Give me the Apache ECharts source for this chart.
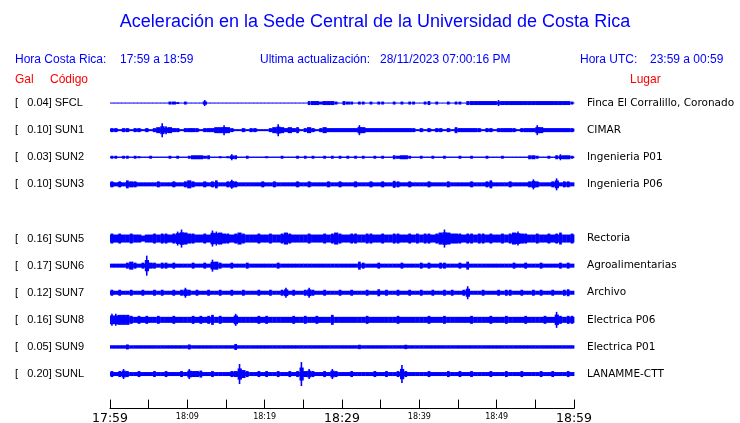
<!DOCTYPE html>
<html><head><meta charset="utf-8">
<script src="https://cdn.jsdelivr.net/npm/echarts@6/dist/echarts.min.js"></script>
<style>html,body{margin:0;padding:0;background:#fff}#c{width:740px;height:423px}</style>
</head><body><div id="c"></div>
<script>
// Row slots (SUN4 slot is empty in the reference)
const codes  = ['SFCL','SUN1','SUN2','SUN3','','SUN5','SUN6','SUN7','SUN8','SUN9','SUNL'];
const gals   = [0.04, 0.10, 0.03, 0.10, null, 0.16, 0.17, 0.12, 0.16, 0.05, 0.20];
const places = ['Finca El Corralillo, Coronado','CIMAR','Ingenieria P01','Ingenieria P06','','Rectoria','Agroalimentarias','Archivo','Electrica P06','Electrica P01','LANAMME-CTT'];
// time axis: minutes after 17:59, ticks every 5 min, labels every 10 min
const tickLabels = ['17:59','18:04','18:09','18:14','18:19','18:24','18:29','18:34','18:39','18:44','18:49','18:54','18:59'];
const bigLabels = ['17:59','18:29','18:59'];
// typical background band half-thickness per row (px at reference scale)
const bandHalf = [0.5, 1.5, 0.7, 2.2, null, 4, 2, 2, 3, 1.7, 2];
// envelope half-amplitudes (px at reference scale) per 0.5-minute bin, 120 bins each
const SFCL = [0.5,0.5,0.5,0.5,0.5,0.5,0.5,0.5,0.5,0.5,0.5,0.5,0.5,0.5,0.5,
 1.5,1.5,1,0.5,1.5,0.5, 0.5,0.5,0.5, 3,
 0.5,0.5,0.5,0.5,0.5,0.5,0.5,0.5,0.5,0.5,0.5,0.5,0.5,0.5,0.5,0.5,0.5,0.5,0.5,0.5,0.5,0.5,0.5,0.5,0.5,0.5,
 2,2,2,1.5,2,2,2,1.5,0.5,2,1.5,
 1.5,0.5,1.5,1.5,0.5,1.5,0.5,1.5,1.5,0.5,0.5,1.5,0.5,1.5,0.5,1.5,1.5,0.5,0.5,1.5,2,0.5,1.5,0.5,0.5,1.5,0.5,1.5,1.5,0.5,
 2,2,2,2,2,2,2,2,3,2,2,2,2,2,2,2,2,2,2,2,2,2,2,2,2,2,2,1.5];
const SUN1 = [2,2,1,2,2,1,2,2,1,2,1,2, 3,7,4,3,2, 2,1,2,2,2,2,1,2,2,2, 3,3,5,3,2, 1,1,2,1,2,2,1,1,1,2,
 3,6,3,2,3,2,3,1,2, 3,2,1,2,3,2, 2,2,2,2,2,2,2, 5,
 3,2,2,2,2,2,2,2,2,2,2,2,2,2,1,2,1,2,1,2,2,1,2,1, 3,2,2,
 2,2,2,2,1,2,2,1,2,2,2,2,2,1,2,2,2,2, 5,3,2, 2,2,2,2,2,2,2];
const SUN2 = [1.5,1.5,0.7,1.5,1.5,0.7,1.5,1, 0.7,0.7,1.5,0.7,0.7,0.7,0.7, 1.5,0.7,1.5,0.7,0.7,
 1.5,2,2,2,1.5,2, 0.7,0.7,1,0.7,1, 3,2,
 0.7,0.7,1.5,0.7,0.7,0.7,0.7,1,0.7,0.7,0.7,1.5,0.7,0.7,0.7,
 1.5,0.7,1.5,0.7,1.5,0.7,0.7,1.5,0.7,1.5,0.7,1.5,0.7,1.5,0.7,
 1.5,0.7,1.5,0.7,0.7,1.5,0.7,1.5,0.7,0.7, 2,1.5,2,2,1.5,0.7,
 0.7,1.5,0.7,0.7,1.5,0.7,0.7,1.5,0.7,0.7,0.7,1.5,0.7,0.7,1.5,0.7,0.7,0.7,1.5,0.7,0.7,0.7,1.5,0.7,0.7,0.7,0.7,0.7,0.7,
 2,2,1.5,0.7, 0.7,1.5,0.7,2,3,2,2,1.5];
const SUN3 = [3,2,3,2,4,3,3,2,2,2, 2,2,3,2,2,2,3,2,2,3, 4,3,2,2,3,2,3,4,2,2, 3,4.5,3,2,2,2,2,2,2,3,
 2,2,3,2,2,2,2,2,3,2, 2,3,2,2,2,2,3,2,2,3, 2,2,2,3,2,2,2,3,2,2, 3,2,2,3.5,3,2,2,3,2,2,
 2,2,3,2,2,2,2,3,2,2, 2,2,2,3,2,2,2,3,4,2, 2,2,2,3,2,2,2,2,3,5, 3,2,2,2,3,6,2,3,3,2];
const SUN5 = [5,4,5,4,4,5,4,4,3,4, 4,5,4,5,5,4,5,7,9,6, 5,5,4,4,5,4,8,7,6,5, 5,4,5,6,5,4,4,4,5,4,
 4,5,4,4,5,6,5,4,4,4, 4,5,4,4,4,5,4,5,6,5, 4,4,5,5,4,4,5,5,4,4, 5,4,4,5,5,4,4,5,4,5,
 4,5,5,4,5,6,9,6,5,5, 5,4,5,5,4,5,5,4,5,4, 4,5,4,5,6,7,5,5,4,4, 5,4,4,5,4,5,6,4,4,5];
const SUN6 = [2,2,2,2,3,4,3,2,3,10, 3,3,2,3,3,2,3,2,2,2, 2,3,2,2,3,2,6,4,3,2, 2,3,2,2,2,3,2,2,2,2,
 2,2,2,3,2,2,2,2,2,2, 2,2,2,2,2,2,2,2,2,2, 2,2,2,2,4,3,2,2,2,3, 2,2,2,2,2,3,2,2,2,2,
 3,2,3,2,2,3,3,2,2,2, 3,2,4,2,2,2,2,2,2,2, 2,2,2,2,3,2,2,3,2,2, 2,3,2,2,2,2,3,2,3,2];
const SUN7 = [3,2,3,2,2,3,2,2,3,2, 2,3,2,3,2,2,3,2,3,5, 3,2,3,2,2,3,2,2,3,2, 2,3,2,2,3,2,2,2,3,2,
 2,3,2,2,3,5,2,3,2,2, 3,5,3,2,2,3,2,2,2,3, 2,2,3,2,2,2,3,2,2,3.5, 2,3,2,2,3,2,2,3,2,2,
 3,2,2,3,2,2,3,2,3,2, 2,3,6.5,2,2,2,3,2,2,2, 3,2,3,3,2,2,3,2,2,3, 2,3,2,2,3,2,2,3,3.5,2];
const SUN8 = [6,6,5,5,5,4,3,4,3,4, 3,3,4,3,3,3,4,3,3,3, 3,4,3,4,3,4,5,3,4,3, 3,3,6,3,3,3,3,3,4,3,
 4,3,3,3,3,3,3,4,3,3, 4,3,3,4,3,3,3,5,3,3, 3,3,3,3,3,3,4,3,3,3, 3,3,3,3,4,3,3,3,3,3,
 3,3,4,3,3,3,4,3,3,3, 3,3,3,4,3,3,3,3,4,3, 3,3,4,3,3,3,3,4,3,3, 3,3,4,3,3,8,4,3,4,4];
const SUN9 = [1.7,1.7,1.7,1.7,2.5,1.7,1.7,1.7,1.7,1.7, 1.7,1.7,1.7,1.7,1.7,1.7,1.7,1.7,1.7,1.7,
 2.5,1.7,1.7,1.7,1.7,1.7,1.7,1.7,1.7,1.7, 1.7,1.7,3,1.7,1.7,1.7,1.7,1.7,1.7,1.7,
 1.7,1.7,1.7,1.7,1.7,1.7,1.7,1.7,1.7,1.7, 1.7,1.7,1.7,1.7,1.7,1.7,1.7,1.7,1.7,1.7,
 1.7,1.7,1.7,1.7,2.2,1.7,1.7,1.7,1.7,1.7, 1.7,1.7,1.7,1.7,1.7,1.7,2.2,1.7,1.7,1.7,
 1.7,1.7,1.7,1.7,1.7,1.7,1.7,1.7,1.7,1.7, 1.7,1.7,1.7,1.7,1.7,1.7,1.7,1.7,1.7,1.7,
 1.7,1.7,1.7,1.7,1.7,1.7,1.7,1.7,1.7,1.7, 1.7,1.7,1.7,1.7,1.7,1.7,1.7,1.7,1.7,1.7];
const SUNL = [3,2,3,5,3,2,2,3,2,2, 2,3,2,2,3,2,2,2,3,2, 5,3,3,3.5,2,2,3,2,2,2, 2,3,3,10,4,3,2,2,3,2,
 3,2,2,3,2,2,3,2,3,12, 3,5,3,2,2,3,2,5,3,2, 2,2,3,2,2,2,2,2,3,2, 2,3,2,2,3,9,3,2,2,2,
 2,2,3,2,2,2,2,3,2,2, 3,2,2,3,2,2,2,2,3,2, 2,2,3,2,2,2,3,2,2,2, 2,3,2,2,3,2,2,2,3,2];
const traces = [SFCL,SUN1,SUN2,SUN3,null,SUN5,SUN6,SUN7,SUN8,SUN9,SUNL];

const BLUE = '#0000ff', RED = '#ff0000';
const binMin = 0.5;

function makeRenderer(arr, base){
  return function(params, api){
    const i = params.dataIndex;
    const t = api.value(0), r = api.value(1), a = api.value(2);
    const p0 = api.coord([t - binMin/2, r]);
    const p1 = api.coord([t + binMin/2, r]);
    const band = Math.abs(api.size([0,1])[1]);
    const k = band / 27.1;
    const w = p1[0] - p0[0];
    const hb = Math.max(0.5, Math.min(a, base) * k);
    const children = [{type:'rect', shape:{x:p0[0], y:p0[1]-hb, width:w+0.4, height:2*hb}, style:{fill:BLUE}}];
    if (a > base) {
      const prev = i > 0 ? arr[i-1] : base, next = i < arr.length-1 ? arr[i+1] : base;
      const joined = prev > base && next > base && a - base <= 2;
      const ha = a * k;
      const sw = joined ? w + 0.4 : (a - base > 2 ? 1.6 : w * 0.7);
      children.push({type:'rect', shape:{x:p0[0] + (w - sw)/2, y:p0[1]-ha, width:sw, height:2*ha}, style:{fill:BLUE}});
      if (a - base > 2) {
        const hm = (base + (a - base) * 0.45) * k;
        children.push({type:'rect', shape:{x:p0[0], y:p0[1]-hm, width:w+0.4, height:2*hm}, style:{fill:BLUE}});
      }
    }
    return {type:'group', children:children};
  };
}

const series = [];
traces.forEach((arr, r) => {
  if (!arr) return;
  series.push({
    type:'custom', name:codes[r], renderItem:makeRenderer(arr, bandHalf[r]), xAxisIndex:0, yAxisIndex:0,
    encode:{x:0, y:1}, silent:true,
    data: arr.map((a,k) => [k*binMin + binMin/2, r, a])
  });
});

const hdrFont = 'Liberation Sans, Arial, sans-serif';
function txt(x, y, s, color, size, align){
  return {type:'text', x:x, y:y, silent:true, style:{text:s, fill:color, fontFamily:hdrFont, fontSize:size, textAlign:align||'left', textVerticalAlign:'middle'}};
}

const chart = echarts.init(document.getElementById('c'), null, {renderer:'canvas'});
chart.setOption({
  animation:false,
  backgroundColor:'#fff',
  graphic:[
    txt(375, 22, 'Aceleración en la Sede Central de la Universidad de Costa Rica', BLUE, 18, 'center'),
    txt(15, 60, 'Hora Costa Rica:', BLUE, 12),
    txt(120, 60, '17:59 a 18:59', BLUE, 12),
    txt(260, 60, 'Ultima actualización:', BLUE, 12),
    txt(380, 60, '28/11/2023 07:00:16 PM', BLUE, 12),
    txt(580, 60, 'Hora UTC:', BLUE, 12),
    txt(650, 60, '23:59 a 00:59', BLUE, 12),
    txt(15, 80, 'Gal', RED, 12),
    txt(50, 80, 'Código', RED, 12),
    txt(630, 80, 'Lugar', RED, 12)
  ],
  grid:{left:110, right:166, top:89.5, height:298.1, containLabel:false, outerBoundsMode:'none'},
  xAxis:{
    type:'value', min:0, max:60, interval:5, position:'bottom', offset:21,
    splitLine:{show:false},
    axisLine:{show:true, onZero:false, lineStyle:{color:'#000', width:1}},
    axisTick:{show:true, inside:true, length:9, lineStyle:{color:'#000', width:1}},
    axisLabel:{
      show:true, margin:4, color:'#000', fontFamily:'DejaVu Sans', hideOverlap:false,
      formatter:function(v){
        const i = Math.round(v/5);
        if (i % 2 !== 0) return '';
        const s = tickLabels[i];
        return bigLabels.indexOf(s) >= 0 ? '{b|'+s+'}' : '{s|'+s+'}';
      },
      rich:{
        b:{fontSize:12.5, fontFamily:'DejaVu Sans', color:'#000'},
        s:{fontSize:8, fontFamily:'DejaVu Sans', color:'#000'}
      }
    }
  },
  yAxis:[
    {
      type:'category', inverse:true, data:codes, position:'left',
      axisLine:{show:false}, axisTick:{show:false}, splitLine:{show:false},
      axisLabel:{
        show:true, align:'left', margin:95, color:'#000', fontSize:11, fontFamily:hdrFont, interval:0,
        formatter:function(v, i){ return v ? '[   ' + gals[i].toFixed(2) + '] ' + v : ''; }
      }
    },
    {
      type:'category', inverse:true, data:places, position:'right',
      axisLine:{show:false}, axisTick:{show:false}, splitLine:{show:false},
      axisLabel:{show:true, align:'left', margin:13, color:'#000', fontSize:10.5, fontFamily:'DejaVu Sans', interval:0}
    }
  ],
  series:series
});
</script>
</body></html>
